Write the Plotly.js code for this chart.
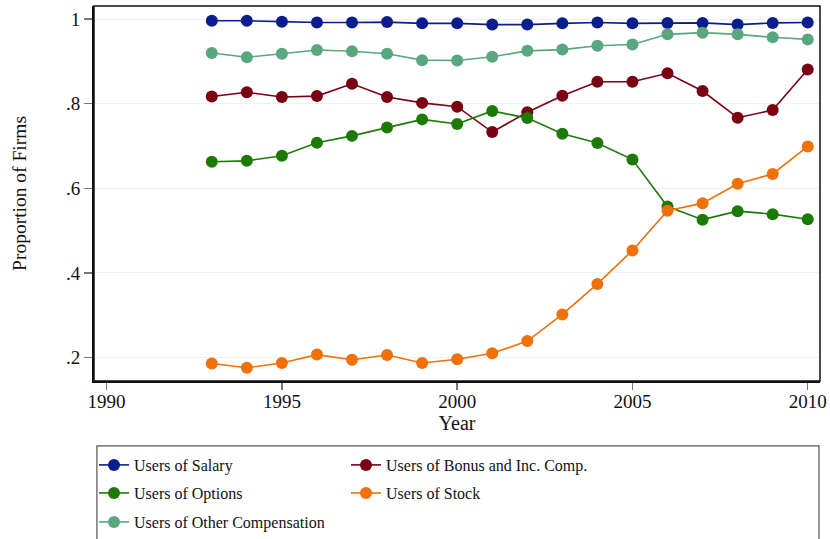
<!DOCTYPE html>
<html>
<head>
<meta charset="utf-8">
<script src="https://cdn.plot.ly/plotly-3.0.1.min.js"></script>
<style>html,body{margin:0;padding:0;background:#fff;}#chart{width:830px;height:539px;}</style>
</head>
<body>
<div id="chart"></div>
<script>
const years = [1993,1994,1995,1996,1997,1998,1999,2000,2001,2002,2003,2004,2005,2006,2007,2008,2009,2010];
const salary = [0.996,0.996,0.994,0.992,0.992,0.993,0.990,0.990,0.987,0.987,0.990,0.992,0.990,0.991,0.991,0.987,0.991,0.992];
const bonus = [0.817,0.827,0.816,0.818,0.847,0.816,0.802,0.793,0.733,0.780,0.819,0.852,0.852,0.872,0.830,0.767,0.785,0.881];
const options = [0.663,0.665,0.677,0.708,0.724,0.744,0.763,0.752,0.783,0.766,0.729,0.707,0.668,0.557,0.526,0.546,0.539,0.527];
const stock = [0.186,0.176,0.187,0.207,0.195,0.206,0.187,0.196,0.210,0.239,0.302,0.374,0.453,0.547,0.565,0.611,0.634,0.699];
const other = [0.920,0.910,0.918,0.927,0.924,0.918,0.903,0.902,0.911,0.925,0.928,0.937,0.940,0.964,0.968,0.964,0.957,0.952];
const seriesNames = ["Users of Salary","Users of Bonus and Inc. Comp.","Users of Options","Users of Stock","Users of Other Compensation"];
const yTickVals = [0.2,0.4,0.6,0.8,1];
const yTickText = [".2",".4",".6",".8","1"];
const xTickVals = [1990,1995,2000,2005,2010];

const colors = ["#0b1d8c","#7a0014","#1e7a08","#f0700a","#5aa67f"];
const legendRows = ["legend","legend","legend2","legend2","legend3"];
const allSeries = [salary,bonus,options,stock,other];
const font = "Liberation Serif, DejaVu Serif, serif";

const traces = allSeries.map((vals,i)=>({
  x: years, y: vals, type: "scatter", mode: "lines+markers",
  name: seriesNames[i], legend: legendRows[i],
  line: {color: colors[i], width: 1.6},
  marker: {color: colors[i], size: 12, line: {width: 0}}
}));

function legendRow(yPaper) {
  return {
    orientation: "h", traceorder: "normal", x: 0.0, xanchor: "left", y: yPaper, yanchor: "middle",
    font: {family: font, size: 16}, itemwidth: 30, entrywidth: 207,
    bgcolor: "rgba(0,0,0,0)", borderwidth: 0
  };
}

const layout = {
  width: 830, height: 539,
  margin: {l: 94, r: 10, t: 6, b: 158, autoexpand: false},
  paper_bgcolor: "#fff", plot_bgcolor: "#fff",
  font: {family: font, size: 18, color: "#111"},
  showlegend: true,
  xaxis: {
    range: [1989.64, 2010.35], tickvals: xTickVals, ticktext: xTickVals.map(String),
    ticks: "outside", ticklen: 7, tickwidth: 1.5, tickcolor: "#777",
    showline: true, linecolor: "#111", linewidth: 2, showgrid: false, zeroline: false,
    tickfont: {family: font, size: 19}, ticklabelstandoff: -5,
    title: {text: "Year", font: {family: font, size: 20}, standoff: 2}
  },
  yaxis: {
    range: [0.1446, 1.031], tickvals: yTickVals, ticktext: yTickText,
    ticks: "outside", ticklen: 8, tickwidth: 1.5, tickcolor: "#777",
    showline: true, linecolor: "#111", linewidth: 2, showgrid: true, gridcolor: "#e9f5f2", gridwidth: 1,
    zeroline: false, tickfont: {family: font, size: 19},
    title: {text: "Proportion of Firms", font: {family: font, size: 19.5}, standoff: 34}
  },
  legend: legendRow(-0.224),
  legend2: legendRow(-0.2987),
  legend3: legendRow(-0.376),
  shapes: [
    {type: "rect", xref: "paper", yref: "paper", x0: 0, x1: 1, y0: 0, y1: 1, line: {color: "#111", width: 1.5}, layer: "above"},
    {type: "rect", xref: "paper", yref: "paper", x0: 0.004, x1: 0.9986, y0: -0.173, y1: -0.45, line: {color: "#555", width: 1.2}}
  ]
};
Plotly.newPlot("chart", traces, layout, {displayModeBar: false, staticPlot: true});
</script>
</body>
</html>
